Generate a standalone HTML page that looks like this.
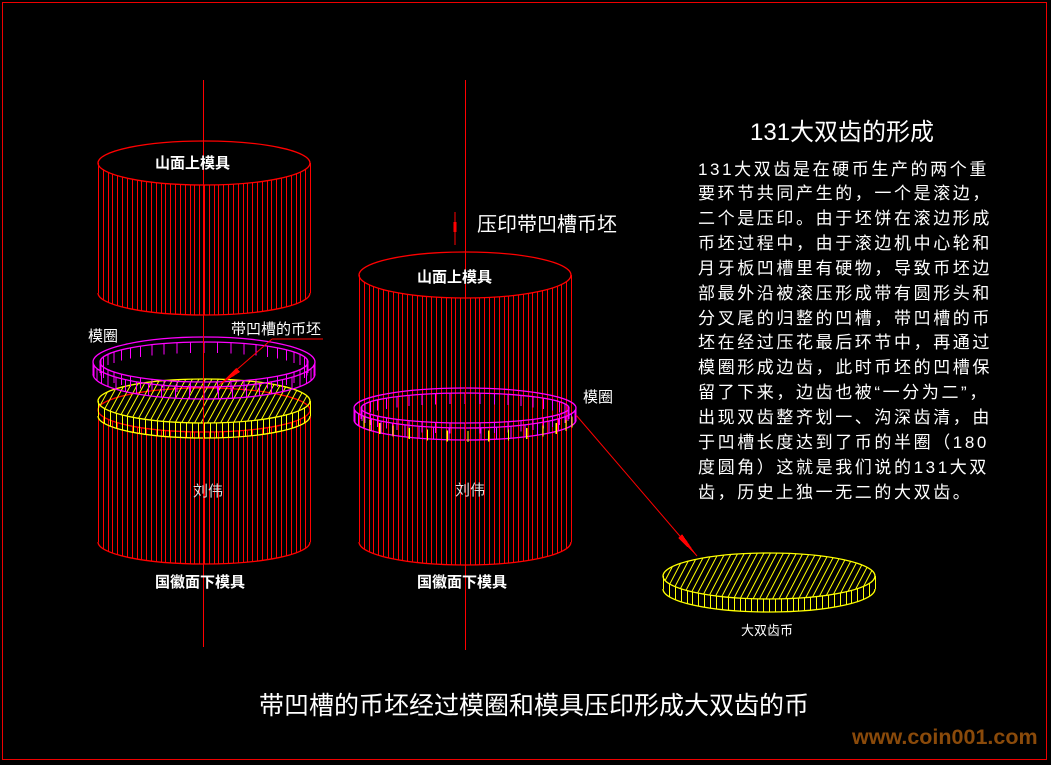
<!DOCTYPE html>
<html><head><meta charset="utf-8">
<style>
html,body{margin:0;padding:0;background:#000;}
body{width:1051px;height:765px;overflow:hidden;position:relative;font-family:"Liberation Sans","Noto Sans CJK SC","WenQuanYi Zen Hei",sans-serif;}
svg{position:absolute;left:0;top:0;}
.t{position:absolute;color:#fff;white-space:nowrap;}
.p{position:absolute;left:698px;color:#fff;font-size:17px;letter-spacing:2.6px;white-space:nowrap;line-height:20px;}
</style></head><body>
<svg id="s" width="1051" height="765" xmlns="http://www.w3.org/2000/svg" shape-rendering="crispEdges">
<rect x="2.5" y="2.5" width="1044" height="757" fill="none" stroke="#e00" stroke-width="1"/>
<g id="g"></g>
<line x1="203.5" y1="80" x2="203.5" y2="647" stroke="#f00" stroke-width="1"/>
<line x1="465.5" y1="80" x2="465.5" y2="650" stroke="#f00" stroke-width="1"/>
<line x1="455" y1="212" x2="455" y2="245" stroke="#f00" stroke-width="1"/>
<rect x="453.5" y="222" width="3" height="10" fill="#f00"/>
<line x1="272" y1="339" x2="323" y2="339" stroke="#f00"/>
<line x1="272" y1="339" x2="218" y2="386" stroke="#f00" shape-rendering="auto"/>
<polygon points="218,386 236,368 240,372" fill="#f00"/>
<line x1="576" y1="415" x2="697" y2="556" stroke="#f00" shape-rendering="auto"/>
<polygon points="697,556 682,534 678,538" fill="#f00"/>
</svg>
<div class="t" style="left:155px;top:152px;font-size:15px;font-weight:bold;">山面上模具</div>
<div class="t" style="left:88px;top:325px;font-size:15px;">模圈</div>
<div class="t" style="left:231px;top:318px;font-size:15px;">带凹槽的币坯</div>
<div class="t" style="left:193px;top:480px;font-size:15px;color:#ddd;">刘伟</div>
<div class="t" style="left:155px;top:571px;font-size:15px;font-weight:bold;">国徽面下模具</div>
<div class="t" style="left:477px;top:208px;font-size:20px;">压印带凹槽币坯</div>
<div class="t" style="left:417px;top:266px;font-size:15px;font-weight:bold;">山面上模具</div>
<div class="t" style="left:583px;top:386px;font-size:15px;">模圈</div>
<div class="t" style="left:455px;top:479px;font-size:15px;color:#ddd;">刘伟</div>
<div class="t" style="left:417px;top:571px;font-size:15px;font-weight:bold;">国徽面下模具</div>
<div class="t" style="left:741px;top:620px;font-size:13px;">大双齿币</div>
<div class="t" style="left:750px;top:112px;font-size:24px;">131大双齿的形成</div>
<div class="p" style="top:160px">131大双齿是在硬币生产的两个重</div>
<div class="p" style="top:184px">要环节共同产生的，一个是滚边，</div>
<div class="p" style="top:209px">二个是压印。由于坯饼在滚边形成</div>
<div class="p" style="top:234px">币坯过程中，由于滚边机中心轮和</div>
<div class="p" style="top:259px">月牙板凹槽里有硬物，导致币坯边</div>
<div class="p" style="top:284px">部最外沿被滚压形成带有圆形头和</div>
<div class="p" style="top:309px">分叉尾的归整的凹槽，带凹槽的币</div>
<div class="p" style="top:333px">坯在经过压花最后环节中，再通过</div>
<div class="p" style="top:358px">模圈形成边齿，此时币坯的凹槽保</div>
<div class="p" style="top:383px">留了下来，边齿也被“一分为二”，</div>
<div class="p" style="top:408px">出现双齿整齐划一、沟深齿清，由</div>
<div class="p" style="top:433px">于凹槽长度达到了币的半圈（180</div>
<div class="p" style="top:458px">度圆角）这就是我们说的131大双</div>
<div class="p" style="top:483px">齿，历史上独一无二的大双齿。</div>
<div class="t" style="left:259px;top:686px;font-size:25px;">带凹槽的币坯经过模圈和模具压印形成大双齿的币</div>
<div class="t" style="left:852px;top:725px;font-size:21.5px;font-weight:bold;color:#8a4a0a;">www.coin001.com</div>
<script>
var g=document.getElementById('g'),NS='http://www.w3.org/2000/svg';
function el(n,a){var e=document.createElementNS(NS,n);for(var k in a)e.setAttribute(k,a[k]);g.appendChild(e);return e;}
function ell(cx,cy,rx,ry,c){el('ellipse',{cx:cx,cy:cy,rx:rx,ry:ry,fill:'none',stroke:c,'stroke-width':1.3,'shape-rendering':'auto'});}
function halfArc(cx,cy,rx,ry,c){el('path',{d:'M'+(cx-rx)+','+cy+' A'+rx+','+ry+' 0 0 0 '+(cx+rx)+','+cy,fill:'none',stroke:c,'stroke-width':1.3,'shape-rendering':'auto'});}
function cyl(cx,y1,y2,rx,ry,c,n){
 ell(cx,y1,rx,ry,c);halfArc(cx,y2,rx,ry,c);
 for(var i=0;i<=n;i++){var x=cx-rx+2*rx*i/n;var u=(x-cx)/rx;var dy=ry*Math.sqrt(Math.max(0,1-u*u));
  el('line',{x1:Math.round(x)+0.5,y1:y1+dy,x2:Math.round(x)+0.5,y2:y2+dy,stroke:c,'stroke-width':1});}
}
function hatch(cx,cy,rx,ry,c,id){
 var cp=document.createElementNS(NS,'clipPath');cp.setAttribute('id',id);
 var e=document.createElementNS(NS,'ellipse');e.setAttribute('cx',cx);e.setAttribute('cy',cy);e.setAttribute('rx',rx);e.setAttribute('ry',ry);cp.appendChild(e);g.appendChild(cp);
 var gg=el('g',{'clip-path':'url(#'+id+')','shape-rendering':'auto'});
 for(var x=cx-rx-40;x<cx+rx+40;x+=6.5){var l=document.createElementNS(NS,'line');
  l.setAttribute('x1',x);l.setAttribute('y1',cy+ry);l.setAttribute('x2',x+24);l.setAttribute('y2',cy-ry);l.setAttribute('stroke',c);l.setAttribute('stroke-width','1');gg.appendChild(l);}
}
function ring(cx,cy,rx,ry,h,c,n){
 ell(cx,cy,rx,ry,c);ell(cx,cy,rx-7,ry-5,c);
 halfArc(cx,cy+h,rx,ry,c);
 for(var i=0;i<=n;i++){var t=2*Math.PI*i/n;var x=cx-rx*Math.cos(t);var dy=ry*Math.sin(t);
  var x2=cx-(rx-7)*Math.cos(t),dy2=(ry-5)*Math.sin(t);
  if(dy>=0)el('line',{x1:x,y1:cy+dy,x2:x,y2:cy+dy+h,stroke:c,'stroke-width':1});
  el('line',{x1:x2,y1:cy+dy2,x2:x2,y2:cy+dy2+h*0.9,stroke:c,'stroke-width':1});}
}
cyl(204,163,293,106,22,'#f00',44);
cyl(204,410,542,106,22,'#f00',44);
hatch(204,401,106,22,'#ff0','h1');
cyl(204,401,416,106,22,'#ff0',36);
ring(204,362,111,25,12,'#f0f',48);
cyl(465,275,542,106,23,'#f00',44);
ring(465,408,111,20,12,'#f0f',44);
for(var i=1;i<16;i++){var t=Math.PI*i/16;var x=465-106*Math.cos(t);el('line',{x1:x+3,y1:413+18*Math.sin(t),x2:x+3,y2:424+18*Math.sin(t),stroke:'#ff0','stroke-width':1.3});}
hatch(769,576,106,23,'#ff0','h2');
cyl(769,576,589,106,23,'#ff0',36);
</script>
</body></html>
